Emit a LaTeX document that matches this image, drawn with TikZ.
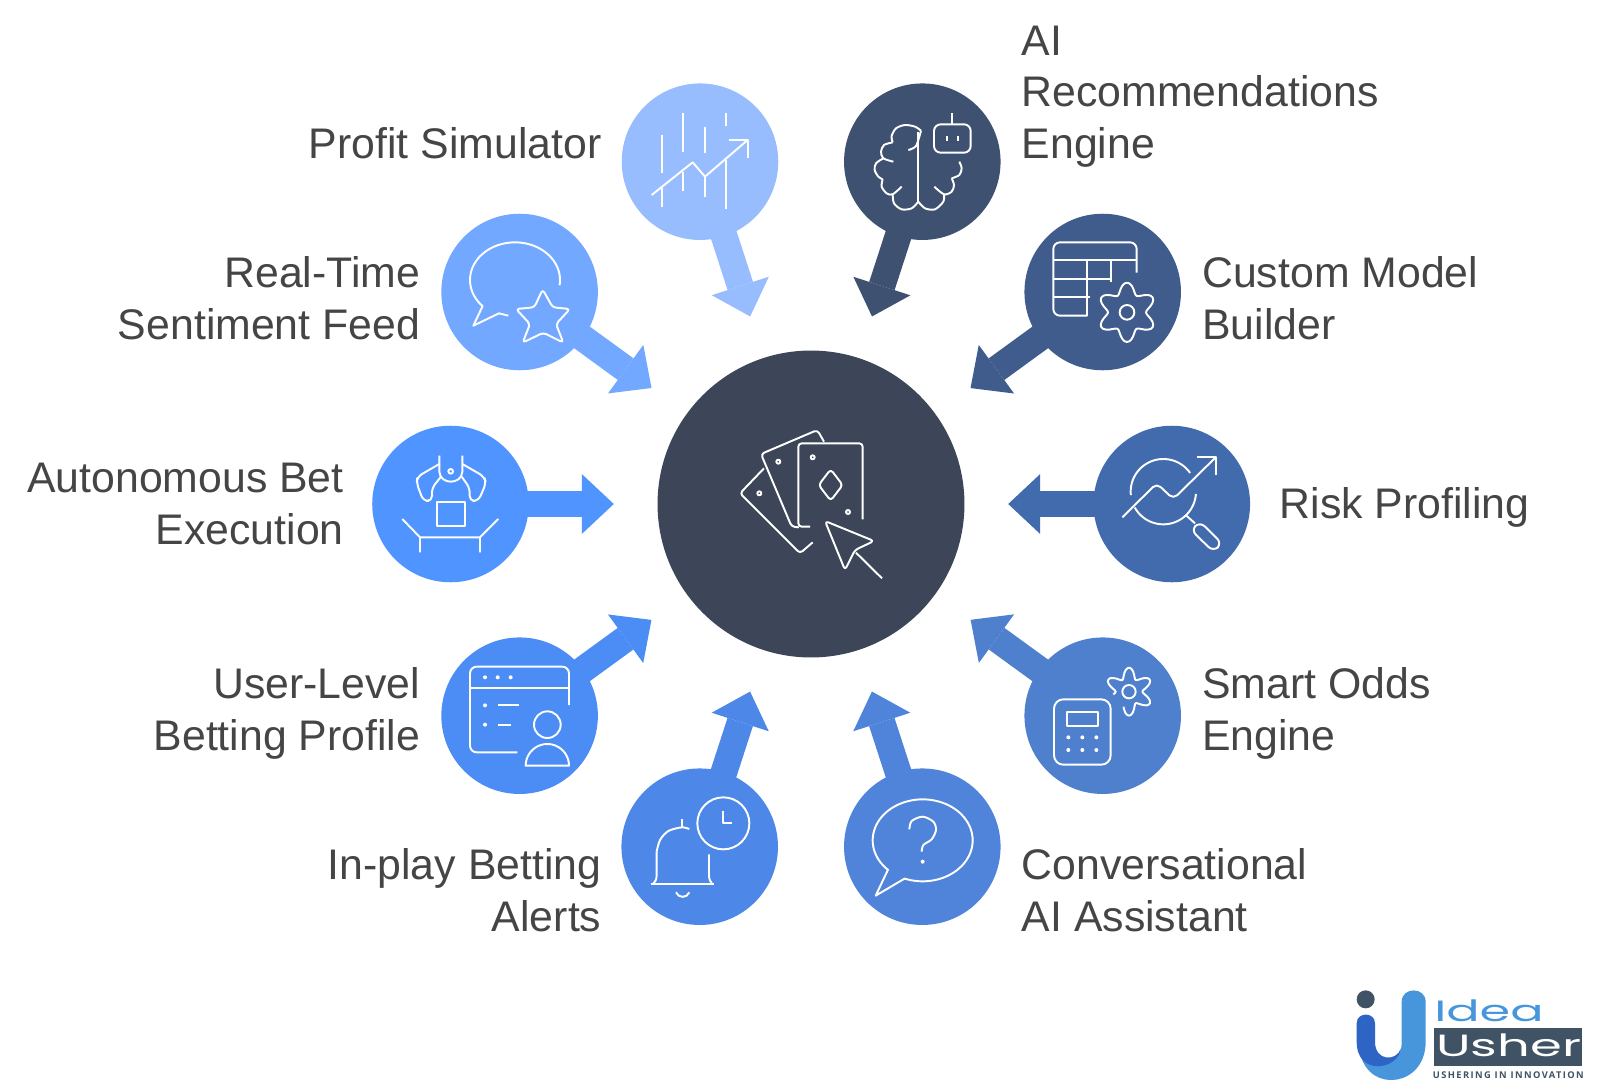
\documentclass[tikz,border=0pt]{standalone}
\usepackage{fontspec}
\usepackage{graphicx}
\setmainfont{Liberation Sans}
\newfontfamily\logofont{Poppins}
\newfontfamily\tagfont[LetterSpace=15]{Open Sans}
\usetikzlibrary{arrows.meta}
\definecolor{cHub}{HTML}{3C4658}
\definecolor{cProfit}{HTML}{97BDFF}
\definecolor{cBrain}{HTML}{3F5170}
\definecolor{cSenti}{HTML}{72A8FF}
\definecolor{cCustom}{HTML}{3F5C8C}
\definecolor{cAuto}{HTML}{4F94FF}
\definecolor{cRisk}{HTML}{426BAE}
\definecolor{cUser}{HTML}{4C8CF5}
\definecolor{cOdds}{HTML}{4F80CE}
\definecolor{cPlay}{HTML}{4D88E8}
\definecolor{cConv}{HTML}{5084DB}
\definecolor{cText}{HTML}{454545}
\definecolor{cLogoDark}{HTML}{3F5364}
\definecolor{cLogoLight}{HTML}{4796DC}
\definecolor{cLogoBlue}{HTML}{2E64C4}
\tikzset{
  sat/.style={circle,fill=#1,inner sep=0pt,minimum size=117.4pt},
  hubdisc/.style={circle,fill=cHub,inner sep=0pt,minimum size=230.2pt},
  spoke/.style={draw=#1,line width=20pt,shorten >=32.6pt,shorten <=-10pt,
    -{Triangle[length=24pt,width=45pt,line width=0pt,fill=#1]}},
  lbl/.style={font=\fontsize{32.1}{38.6}\selectfont,text=cText,inner sep=0pt},
  lblr/.style={lbl,anchor=east,align=right},
  lbll/.style={lbl,anchor=west,align=left},
  zm/.style 2 args={shift={(#1,#2)},x=0.25pt,y=-0.25pt},
  icon/.style={draw=white,line width=1.45pt,line join=round},
}
\begin{document}
\begin{tikzpicture}[x=0.75pt,y=-0.75pt]
\useasboundingbox (0,0) rectangle (1600,1089);
\fill[white] (0,0) rectangle (1600,1089);
% hub and satellites
\node[hubdisc] (hub) at (811,504) {};
\node[sat=cProfit] (profit) at (700,161.7) {};
\node[sat=cBrain] (brain) at (922.3,161.7) {};
\node[sat=cSenti] (senti) at (519.6,292) {};
\node[sat=cCustom] (custom) at (1102.7,292) {};
\node[sat=cAuto] (auto) at (450.5,504) {};
\node[sat=cRisk] (risk) at (1171.8,504) {};
\node[sat=cUser] (user) at (519.6,715.7) {};
\node[sat=cOdds] (odds) at (1102.7,715.7) {};
\node[sat=cPlay] (play) at (699.7,846.7) {};
\node[sat=cConv] (conv) at (922.3,846.7) {};
% connectors
\draw[spoke=cProfit] (profit) -- (hub);
\draw[spoke=cBrain] (brain) -- (hub);
\draw[spoke=cSenti] (senti) -- (hub);
\draw[spoke=cCustom] (custom) -- (hub);
\draw[spoke=cAuto] (auto) -- (hub);
\draw[spoke=cRisk] (risk) -- (hub);
\draw[spoke=cUser] (user) -- (hub);
\draw[spoke=cOdds] (odds) -- (hub);
\draw[spoke=cPlay] (play) -- (hub);
\draw[spoke=cConv] (conv) -- (hub);
% labels
\node[lblr] (tProfit) at (601.6,143) {Profit Simulator};
\node[lblr] (tSenti) at (420.4,298) {Real-Time\\Sentiment Feed};
\node[lblr] (tAuto) at (344,504) {Autonomous Bet\\Execution};
\node[lblr] (tUser) at (420.4,713.5) {User-Level\\Betting Profile};
\node[lblr] (tPlay) at (601.6,890) {In-play Betting\\Alerts};
\node[lbll] (tBrain) at (1021.5,96.5) {AI\\Recommendations\\Engine};
\node[lbll] (tCustom) at (1202,298) {Custom Model\\Builder};
\node[lbll] (tRisk) at (1279.6,507) {Risk Profiling};
\node[lbll] (tOdds) at (1202,713.5) {Smart Odds\\Engine};
\node[lbll] (tConv) at (1021.5,890) {Conversational\\AI Assistant};
% --- icons ---
% chart
\begin{scope}[zm={600}{60},icon]
\draw (187,225)--(187,338) (187,385)--(187,442) (250,160)--(250,275) (250,335)--(250,393)
 (315,200)--(315,280) (315,350)--(315,410) (379,160)--(379,197) (379,300)--(379,447);
\draw (155,405)--(278,307)--(315,350)--(443,240);
\draw (387,240)--(445,240)--(445,293);
% brain
\draw plot[smooth] coordinates {(963,212)(945,200)(915,195)(888,205)(875,228)(878,247)};
\draw plot[smooth] coordinates {(878,247)(852,255)(843,275)(850,295)(880,305)};
\draw plot[smooth] coordinates {(850,295)(828,310)(824,330)(835,350)(848,358)};
\draw plot[smooth] coordinates {(848,358)(845,380)(860,400)(878,403)(905,380)};
\draw plot[smooth] coordinates {(878,403)(882,430)(905,448)(935,445)(955,425)};
\draw plot[smooth] coordinates {(955,425)(975,445)(1005,448)(1030,425)(1032,403)};
\draw plot[smooth] coordinates {(1003,380)(1032,403)(1055,395)(1062,375)(1055,355)};
\draw plot[smooth] coordinates {(1055,355)(1078,345)(1085,325)(1078,305)};
\draw plot[smooth] coordinates {(925,270)(948,258)(963,212)};
\draw (955,215)--(955,425);
\draw[rounded corners=5pt] (1002,193) rectangle (1112,278);
\draw (1056,160)--(1056,193) (1040,228)--(1040,242) (1075,228)--(1075,242);
\end{scope}
% sentiment
\begin{scope}[zm={420}{200},icon]
\draw plot[domain=136:368,samples=60,variable=\t] ({285+135*cos(\t)},{240+113*sin(\t)});
\draw (188,318)--(160,377)--(237,340)--(265,347);
\draw[rounded corners=2.5pt] (368,268)--(398,322)--(450,327)--(408,372)--(430,428)--(370,398)--(308,428)--(330,372)--(288,327)--(343,322)--cycle;
\end{scope}
% custom model
\begin{scope}[zm={1010}{200},icon]
\draw[rounded corners=5pt] (380,218)--(380,127)--(130,127)--(130,347)--(232,347);
\draw (130,180)--(380,180) (130,237)--(303,237) (130,290)--(240,290) (232,180)--(232,347) (303,180)--(303,245);
\draw (351,337) circle[radius=22];
\draw plot[smooth cycle,domain=0:355,samples=72,variable=\t] ({351+(73-16*cos(6*\t))*cos(\t)},{337+(73-16*cos(6*\t))*sin(\t)});
\end{scope}
% cards
\begin{scope}[zm={700}{410},icon]
\draw[rounded corners=2.5pt] (488,328)--(488,100)--(295,100)--(295,350)--(330,350);
\draw[rounded corners=2.5pt] (372,95)--(352,60)--(183,132)--(275,350)--(297,352);
\draw[rounded corners=2.5pt] (192,175)--(120,250)--(300,430)--(338,397);
\draw (338,142) circle[radius=6] (235,155) circle[radius=6] (178,250) circle[radius=6] (444,306) circle[radius=6];
\draw[rounded corners=2.5pt] (392,178)--(428,225)--(392,272)--(356,225)--cycle;
\draw[rounded corners=2.5pt] (375,333)--(522,393)--(465,420)--(435,480)--cycle;
\draw (468,428)--(546,505);
\end{scope}
% robot arm
\begin{scope}[zm={360}{420},icon]
\draw (230,245) rectangle (316,317);
\draw (127,297)--(180,352)--(360,352)--(415,297) (180,352)--(180,397) (360,352)--(360,397);
\draw (238,107)--(238,155) .. controls (240,195) and (305,195) .. (307,155)--(307,107);
\draw (272,154) circle[radius=7];
\draw[rounded corners=4pt] (238,132)--(172,170)--(170,190)--(190,243)--(217,243)--(215,205)--(243,170);
\draw[rounded corners=4pt] (307,132)--(373,170)--(378,190)--(355,243)--(328,243)--(330,205)--(305,170);
\end{scope}
% risk
\begin{scope}[zm={1090}{420},icon]
\draw plot[domain=174:325,samples=40,variable=\t] ({220+98*cos(\t)},{215+98*sin(\t)});
\draw plot[domain=4:151,samples=40,variable=\t] ({220+98*cos(\t)},{215+98*sin(\t)});
\draw[rounded corners=4pt] (97,292)--(200,190)--(250,237)--(377,112);
\draw (322,112)--(377,112)--(377,165);
\draw (287,285)--(315,310);
\draw[rounded corners=5pt] (303,330)--(330,305)--(396,370)--(370,395)--cycle;
\end{scope}
% user
\begin{scope}[zm={430}{630},icon]
\draw[rounded corners=5pt] (417,225)--(417,110)--(120,110)--(120,367)--(262,367);
\draw (120,175)--(417,175) (205,226)--(268,226) (205,284)--(242,284);
\fill[white] (165,142) circle[radius=6] (203,142) circle[radius=6] (242,142) circle[radius=6] (165,226) circle[radius=6] (165,284) circle[radius=6];
\draw (352,284) circle[radius=40];
\draw plot[domain=180:360,samples=30,variable=\t] ({352+65*cos(\t)},{407+65*sin(\t)}) -- cycle;
\end{scope}
% odds
\begin{scope}[zm={1020}{630},icon]
\draw[rounded corners=7pt] (102,208) rectangle (272,404);
\draw (140,247) rectangle (233,288);
\fill[white] (145,322) circle[radius=6] (187,322) circle[radius=6] (229,322) circle[radius=6]
 (145,360) circle[radius=6] (187,360) circle[radius=6] (229,360) circle[radius=6];
\draw (327,185) circle[radius=20];
\draw plot[smooth,domain=170:470,samples=60,variable=\t] ({327+(56-16*cos(6*\t))*cos(\t)},{185+(56-16*cos(6*\t))*sin(\t)});
\end{scope}
% alerts and conversation
\begin{scope}[zm={610}{760},icon]
\draw plot[smooth] coordinates {(238,207)(215,202)(175,213)(150,240)(140,275)};
\draw (140,275)--(140,345) .. controls (140,360) and (135,365) .. (130,371);
\draw (297,283)--(297,345) .. controls (297,360) and (302,365) .. (306,371);
\draw (122,371)--(313,371) (217,178)--(217,203);
\draw (198,397) .. controls (205,415) and (231,415) .. (238,397);
\draw (340,190) circle[radius=78];
\draw (338,152)--(338,190)--(365,190);
\draw plot[domain=-226:111,samples=80,variable=\t] ({938+150*cos(\t)},{241+123*sin(\t)});
\draw (835,327)--(797,407)--(885,355);
\draw plot[smooth] coordinates {(898,208)(905,183)(938,170)(970,185)(978,210)(965,238)(940,255)(935,275)};
\fill[white] (938,305) circle[radius=6];
\end{scope}
% logo
\begin{scope}[zm={1340}{970}]
\fill[cLogoDark] (77,88) circle[radius=27];
\fill[cLogoLight] (185,95) .. controls (185,50) and (257,50) .. (257,95) -- (257,215)
  .. controls (257,350) and (90,370) .. (62,255) .. controls (90,300) and (185,290) .. (185,220) -- cycle;
\fill[cLogoBlue] (50,160) .. controls (50,125) and (105,125) .. (105,160) -- (105,215)
  .. controls (105,275) and (170,275) .. (183,235) .. controls (175,300) and (50,320) .. (50,215) -- cycle;
\fill[cLogoDark] (282,173) rectangle (727,287);
\node[inner sep=0pt,anchor=base west,text=cLogoLight,font=\logofont\fontsize{22}{22}\selectfont] (tIdea) at (282,153) {\scalebox{1.68}[1]{Idea}};
\node[inner sep=0pt,anchor=base west,text=white,font=\logofont\fontsize{23}{23}\selectfont] (tUsher) at (288,260) {\scalebox{1.67}[1]{Usher}};
\node[inner sep=0pt,anchor=base west,text=cLogoDark,font=\tagfont\bfseries\fontsize{7}{7}\selectfont] (tTag) at (278,325) {USHERING IN INNOVATION};
\end{scope}
\end{tikzpicture}
\end{document}
